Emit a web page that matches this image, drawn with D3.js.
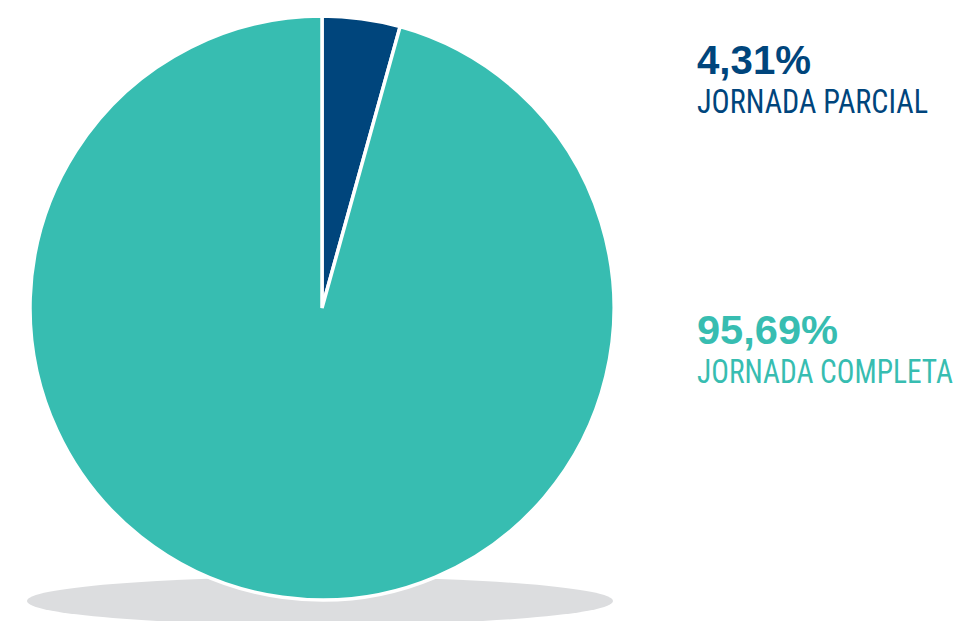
<!DOCTYPE html>
<html>
<head>
<meta charset="utf-8">
<script src="https://cdn.jsdelivr.net/npm/d3@7"></script>
<style>
  html, body { margin: 0; padding: 0; background: #ffffff; }
  svg { display: block; }
</style>
</head>
<body>
<svg id="chart" width="963" height="621"></svg>
<script>
// Workday type share (percent)
const categories = ["JORNADA PARCIAL", "JORNADA COMPLETA"];
const values = [4.31, 95.69];
const valueLabels = ["4,31%", "95,69%"];
const colors = ["#00457c", "#37bdb1"];

const svg = d3.select("#chart");
const cx = 322, cy = 308, radius = 292;

// soft floor shadow under the disc
svg.append("ellipse")
  .attr("cx", 320).attr("cy", 601)
  .attr("rx", 293).attr("ry", 24)
  .attr("fill", "#dcdddf");

const pie = d3.pie().sort(null).value(d => d)(values);
const arc = d3.arc().innerRadius(0).outerRadius(radius);

svg.append("g")
  .attr("transform", `translate(${cx},${cy})`)
  .selectAll("path")
  .data(pie)
  .join("path")
  .attr("d", arc)
  .attr("fill", (d, i) => colors[i])
  .attr("stroke", "#ffffff")
  .attr("stroke-width", 3.5)
  .attr("stroke-linejoin", "miter");

// squeeze a text horizontally to a target width, anchored at its left edge
function fitWidth(sel, x, width) {
  const natural = sel.node().getComputedTextLength();
  const k = width / natural;
  sel.attr("x", 0)
     .attr("transform", `translate(${x},0) scale(${k},1)`);
}

// legend labels on the right
const legendY = [74, 344];
const valueWidths = [114, 141];
const nameWidths = [231, 256];
const legend = svg.append("g");
categories.forEach((name, i) => {
  const v = legend.append("text")
    .attr("y", legendY[i])
    .attr("fill", colors[i])
    .attr("font-family", "Liberation Sans, Arial, sans-serif")
    .attr("font-weight", "bold")
    .attr("font-size", 40)
    .text(valueLabels[i]);
  fitWidth(v, 697, valueWidths[i]);
  const n = legend.append("text")
    .attr("y", legendY[i] + 39)
    .attr("fill", colors[i])
    .attr("font-family", "Liberation Sans Narrow, Roboto Condensed, Liberation Sans, sans-serif")
    .attr("font-size", 33)
    .text(name);
  fitWidth(n, 697, nameWidths[i]);
});
</script>
</body>
</html>
